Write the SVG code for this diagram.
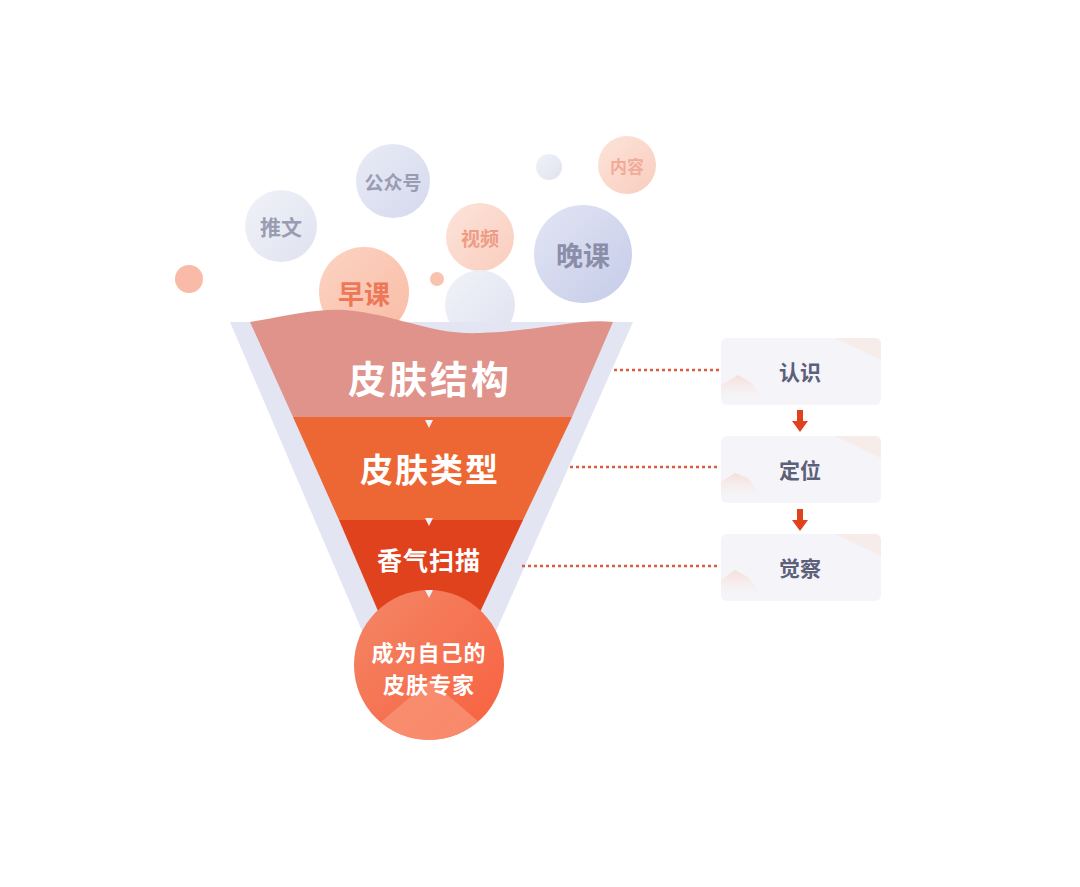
<svg xmlns="http://www.w3.org/2000/svg" width="1080" height="887" viewBox="0 0 1080 887">
<style>
.cn{font-family:"Noto Sans CJK SC","Noto Sans",sans-serif;font-weight:700;text-anchor:middle;dominant-baseline:central}
.w{fill:#ffffff}
.box{fill:#f5f5f9}
.bt{fill:#5c6079;font-size:21px}
.dot{stroke:#e05a40;stroke-width:2.5;stroke-dasharray:3 3;fill:none}
.chev{fill:#eef0f8}
.rarr{fill:#e0421e}
</style>
<defs>
<linearGradient id="gLav" x1="0" y1="0" x2="1" y2="1"><stop offset="0" stop-color="#f1f2f8"/><stop offset="1" stop-color="#dfe2f0"/></linearGradient>
<linearGradient id="gLav2" x1="0" y1="0" x2="1" y2="1"><stop offset="0" stop-color="#e9ebf5"/><stop offset="1" stop-color="#d5d9ee"/></linearGradient>
<linearGradient id="gBlue" x1="0" y1="0" x2="1" y2="1"><stop offset="0" stop-color="#e2e5f4"/><stop offset="1" stop-color="#c6cce9"/></linearGradient>
<linearGradient id="gPeach" x1="0" y1="0" x2="1" y2="1"><stop offset="0" stop-color="#fde4da"/><stop offset="1" stop-color="#f9cdbd"/></linearGradient>
<linearGradient id="gPeach2" x1="0" y1="0" x2="1" y2="1"><stop offset="0" stop-color="#fcd3c3"/><stop offset="1" stop-color="#f9bca5"/></linearGradient>
<linearGradient id="gCirc" x1="0" y1="0" x2="1" y2="1"><stop offset="0" stop-color="#f38766"/><stop offset="1" stop-color="#f8603f"/></linearGradient>
<linearGradient id="gBox" x1="0" y1="0" x2="1" y2="1"><stop offset="0" stop-color="#f7f7fa"/><stop offset="1" stop-color="#f4f3f7"/></linearGradient>
<linearGradient id="gMtn" x1="0" y1="0" x2="0" y2="1"><stop offset="0" stop-color="#f6d9d0" stop-opacity="0.8"/><stop offset="1" stop-color="#f6f5f9" stop-opacity="0"/></linearGradient>
<clipPath id="cBall"><circle cx="429" cy="665" r="75"/></clipPath>
</defs>

<g id="bubbles">
<g id="b-tuiwen"><circle cx="281" cy="226" r="36" fill="url(#gLav)"/><text class="cn" x="281" y="226" font-size="21" fill="#9a9db2">推文</text></g>
<g id="b-gongzhonghao"><circle cx="393" cy="181" r="37" fill="url(#gLav2)"/><text class="cn" x="393" y="181" font-size="19" fill="#9a9db2">公众号</text></g>
<g id="b-small1"><circle cx="549" cy="167" r="13" fill="url(#gLav)"/></g>
<g id="b-neirong"><circle cx="627" cy="165" r="29" fill="url(#gPeach)"/><text class="cn" x="627" y="165" font-size="17" fill="#f2ab9b" font-weight="500">内容</text></g>
<g id="b-shipin"><circle cx="480" cy="237" r="34" fill="url(#gPeach)"/><text class="cn" x="480" y="237" font-size="19" fill="#ee9c86">视频</text></g>
<g id="b-wanke"><circle cx="583" cy="254" r="49" fill="url(#gBlue)"/><text class="cn" x="583" y="254" font-size="27" fill="#8a8ea8">晚课</text></g>
<g id="b-small2"><circle cx="189" cy="279" r="14" fill="#f9bba7"/></g>
<g id="b-small3"><circle cx="437" cy="279" r="7" fill="#f9c3b0"/></g>
<g id="b-white"><circle cx="480" cy="305" r="35" fill="url(#gLav)"/></g>
<g id="b-zaoke"><circle cx="364" cy="292" r="45" fill="url(#gPeach2)"/><text class="cn" x="364" y="292" font-size="26" fill="#ec7857">早课</text></g>
</g>

<g id="funnel">
<path d="M230 322 L633 322 L492 640 L366 640 Z" fill="#e3e5f3"/>
<path d="M250 322 C290 315 320 308 345 310 C400 315 430 335 480 333 C540 331 580 318 613 322 L572 417 L293 417 Z" fill="#e0938a"/>
<path d="M293 417 L572 417 L523 520 L339 520 Z" fill="#ec6733"/>
<path d="M339 520 L523 520 L474 625 L384 625 Z" fill="#e0421e"/>
</g>

<g id="ball">
<circle cx="429" cy="665" r="75" fill="url(#gCirc)"/>
<path d="M360 740 L430 680 L500 740 Z" fill="#f9987a" opacity="0.7" clip-path="url(#cBall)"/>
<text class="cn w" x="429" y="651" font-size="22" letter-spacing="1">成为自己的</text>
<text class="cn w" x="429" y="683" font-size="22" letter-spacing="1">皮肤专家</text>
</g>

<g id="layer1"><text class="cn w" x="430" y="376" font-size="38" letter-spacing="3">皮肤结构</text></g>
<g id="layer2"><text class="cn w" x="430" y="468" font-size="33" letter-spacing="2">皮肤类型</text></g>
<g id="layer3"><text class="cn w" x="429" y="559" font-size="25" letter-spacing="1">香气扫描</text></g>

<g id="chevrons">
<path class="chev" d="M425 420 L433 420 L429 428 Z"/>
<path class="chev" d="M425 518 L433 518 L429 526 Z"/>
<path class="chev" d="M425 590 L433 590 L429 598 Z"/>
</g>

<g id="connectors">
<line class="dot" x1="614" y1="370" x2="720" y2="370"/>
<line class="dot" x1="570" y1="467" x2="720" y2="467"/>
<line class="dot" x1="522" y1="566" x2="720" y2="566"/>
<path class="rarr" d="M797 410 L803 410 L803 421 L808 421 L800 432 L792 421 L797 421 Z"/>
<path class="rarr" d="M797 509 L803 509 L803 520 L808 520 L800 531 L792 520 L797 520 Z"/>
</g>

<g id="box1">
<rect class="box" x="721" y="338" width="160" height="67" rx="6" fill="url(#gBox)"/>
<path d="M721 385 L738 375 L752 383 L766 405 L721 405 Z" fill="url(#gMtn)"/>
<path d="M835 338 L875 338 Q881 338 881 344 L881 360 Z" fill="#f6e6e0" opacity="0.6"/>
<text class="cn bt" x="800" y="371">认识</text>
</g>
<g id="box2">
<rect class="box" x="721" y="436" width="160" height="67" rx="6" fill="url(#gBox)"/>
<path d="M721 482 L735 473 L748 478 L766 503 L721 503 Z" fill="url(#gMtn)"/>
<path d="M835 436 L875 436 Q881 436 881 442 L881 458 Z" fill="#f6e6e0" opacity="0.6"/>
<text class="cn bt" x="800" y="469">定位</text>
</g>
<g id="box3">
<rect class="box" x="721" y="534" width="160" height="67" rx="6" fill="url(#gBox)"/>
<path d="M721 580 L735 570 L748 577 L766 601 L721 601 Z" fill="url(#gMtn)"/>
<path d="M835 534 L875 534 Q881 534 881 540 L881 556 Z" fill="#f6e6e0" opacity="0.6"/>
<text class="cn bt" x="800" y="567">觉察</text>
</g>
</svg>
